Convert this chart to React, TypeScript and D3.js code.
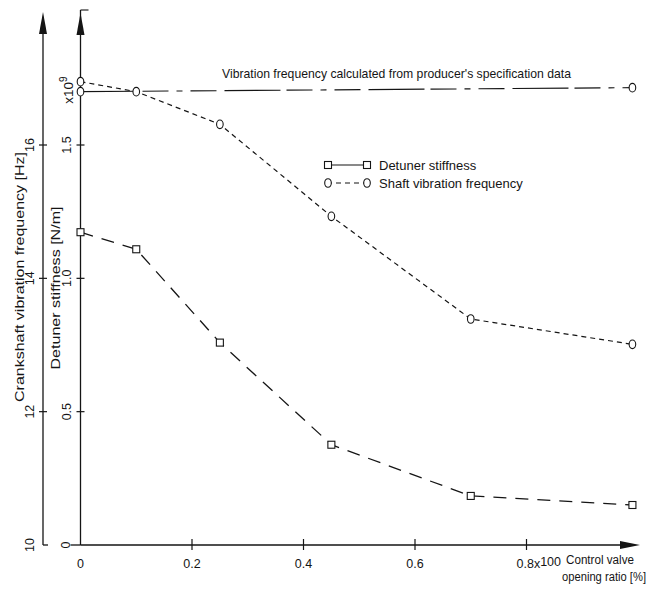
import React from "react";
import * as d3 from "d3";

const xValues = [0, 0.1, 0.25, 0.45, 0.7, 0.99];
const shaftFreq = [16.95, 16.8, 16.31, 14.93, 13.39, 13.01];
const detunerStiffness = [1.173, 1.109, 0.759, 0.376, 0.184, 0.15];
const specX = [0, 0.99];
const specFreq = [16.8, 16.86];
const xTicks = [0, 0.2, 0.4, 0.6, 0.8];
const xTickLabels = ["0", "0.2", "0.4", "0.6", "0.8"];
const hzTicks = [10, 12, 14, 16];
const stiffTicks = [0, 0.5, 1.0, 1.5];

const W = 656;
const H = 593;
const INK = "#151515";
const FONT = "'Liberation Sans Narrow', 'Liberation Sans', Arial, sans-serif";
const WIDE = "'Liberation Sans', Arial, sans-serif";

export default function App() {
  const x = d3.scaleLinear().domain([0, 0.2]).range([80.5, 192]);
  const yHz = d3.scaleLinear().domain([10, 16]).range([545, 145]);
  const yS = d3.scaleLinear().domain([0, 1.5]).range([545, 145]);
  const axHz = 43;
  const axS = x(0);
  const y0 = yS(0);

  const shaftPts: [number, number][] = xValues.map((v, i) => [x(v), yHz(shaftFreq[i])]);
  const stiffPts: [number, number][] = xValues.map((v, i) => [x(v), yS(detunerStiffness[i])]);
  const specPts: [number, number][] = specX.map((v, i) => [x(v), yHz(specFreq[i])]);
  const line = d3.line();

  const circ = (cx: number, cy: number, k: string) => (
    <ellipse key={k} cx={cx} cy={cy} rx={3.3} ry={4.3} fill="white" stroke={INK} strokeWidth={1.1} />
  );
  const sq = (cx: number, cy: number, k: string) => (
    <rect key={k} x={cx - 3.5} y={cy - 3.5} width={7} height={7} fill="white" stroke={INK} strokeWidth={1.1} />
  );

  return (
    <svg width={W} height={H} style={{ position: "absolute", left: 0, top: 0, background: "white" }} fontFamily={FONT}>
      <rect x={0} y={0} width={W} height={H} fill="white" />
      {/* Outer Hz axis */}
      <line x1={axHz} y1={y0} x2={axHz} y2={30} stroke={INK} strokeWidth={1.3} />
      <path d={`M${axHz},12 L${axHz - 4},34 L${axHz + 4},34 Z`} fill={INK} />
      <line x1={axHz} y1={y0} x2={axHz + 5} y2={y0} stroke={INK} strokeWidth={1.3} />
      {hzTicks.filter((t) => t !== 10).map((t) => (
        <line key={"ht" + t} x1={axHz - 4} x2={axHz + 4} y1={yHz(t)} y2={yHz(t)} stroke={INK} strokeWidth={1.2} />
      ))}
      {hzTicks.map((t) => (
        <text key={"hl" + t} transform={`translate(30,${yHz(t)}) rotate(-90)`} textAnchor="middle"
          dominantBaseline="central" fontSize={12.5} fill={INK}>{t}</text>
      ))}
      <text transform={`translate(19,277) rotate(-90)`} textAnchor="middle" dominantBaseline="central"
        fontSize={13} fill={INK} fontFamily={WIDE} textLength={250} lengthAdjust="spacingAndGlyphs">
        Crankshaft vibration frequency [Hz]
      </text>

      {/* Inner stiffness axis */}
      <line x1={axS} y1={y0} x2={axS} y2={10} stroke={INK} strokeWidth={1.3} />
      <line x1={axS} y1={10} x2={axS + 8} y2={10} stroke={INK} strokeWidth={1.1} />
      <path d={`M${axS},13 L${axS - 4},35 L${axS + 4},35 Z`} fill={INK} />
      <line x1={axS - 10} y1={y0} x2={axS} y2={y0} stroke={INK} strokeWidth={1.3} />
      {stiffTicks.filter((t) => t !== 0).map((t) => (
        <line key={"st" + t} x1={axS - 4} x2={axS + 4} y1={yS(t)} y2={yS(t)} stroke={INK} strokeWidth={1.2} />
      ))}
      {stiffTicks.map((t) => (
        <text key={"sl" + t} transform={`translate(${t === 0 ? 66 : 67},${yS(t)}) rotate(-90)`}
          textAnchor="middle" dominantBaseline="central" fontSize={12.5} fill={INK}>
          {t === 0 ? "0" : d3.format(".1f")(t)}
        </text>
      ))}
      <text transform={`translate(68,90) rotate(-90)`} textAnchor="middle" dominantBaseline="central"
        fontSize={13.5} fill={INK}>x10<tspan dy={-5} fontSize={10}>9</tspan></text>
      <text transform={`translate(55,288) rotate(-90)`} textAnchor="middle" dominantBaseline="central"
        fontSize={13} fill={INK} fontFamily={WIDE} textLength={163} lengthAdjust="spacingAndGlyphs">
        Detuner stiffness [N/m]
      </text>

      {/* X axis */}
      <line x1={axS} y1={y0} x2={628} y2={y0} stroke={INK} strokeWidth={1.3} />
      <path d={`M640,${y0} L620,${y0 - 4} L620,${y0 + 4} Z`} fill={INK} />
      {xTicks.filter((t) => t !== 0).map((t) => (
        <line key={"xt" + t} x1={x(t)} x2={x(t)} y1={y0 - 6} y2={y0 + 5} stroke={INK} strokeWidth={1.2} />
      ))}
      {xTicks.map((t, i) =>
        i === xTicks.length - 1 ? (
          <text key={"xl" + t} x={x(t) - 10} y={568} fontSize={12.5} fill={INK}>
            {xTickLabels[i]}x<tspan dy={-2}>100</tspan>
          </text>
        ) : (
          <text key={"xl" + t} x={x(t)} y={568} textAnchor="middle" fontSize={12.5} fill={INK}>{xTickLabels[i]}</text>
        )
      )}
      <text x={566} y={564} fontSize={12.5} fill={INK} textLength={68} lengthAdjust="spacingAndGlyphs">Control valve</text>
      <text x={562} y={581} fontSize={12.5} fill={INK} textLength={84} lengthAdjust="spacingAndGlyphs">opening ratio [%]</text>

      {/* Spec reference line */}
      <path d={line(specPts) || ""} fill="none" stroke={INK} strokeWidth={1.1} strokeDasharray="56 6 26 8 6 8 26 8" />
      <text x={222} y={78} fontSize={13} fill={INK} textLength={349} lengthAdjust="spacingAndGlyphs">
        Vibration frequency calculated from producer's specification data
      </text>

      {/* Shaft vibration frequency */}
      <path d={line(shaftPts) || ""} fill="none" stroke={INK} strokeWidth={1.2} strokeDasharray="5 4" />
      {/* Detuner stiffness */}
      <path d={line(stiffPts) || ""} fill="none" stroke={INK} strokeWidth={1.3} strokeDasharray="13 9" />

      {specPts.map((p, i) => circ(p[0], p[1], "sp" + i))}
      {shaftPts.map((p, i) => circ(p[0], p[1], "sh" + i))}
      {stiffPts.map((p, i) => sq(p[0], p[1], "sq" + i))}

      {/* Legend */}
      <line x1={327} x2={368} y1={165} y2={165} stroke={INK} strokeWidth={1.1} />
      {sq(328, 165, "lg1")}
      {sq(367, 165, "lg2")}
      <text x={379} y={169.5} fontSize={13} fill={INK}>Detuner stiffness</text>
      <line x1={327} x2={368} y1={183} y2={183} stroke={INK} strokeWidth={1.1} strokeDasharray="5 4" />
      {circ(328, 183, "lg3")}
      {circ(367, 183, "lg4")}
      <text x={379} y={187.5} fontSize={13} fill={INK}>Shaft vibration frequency</text>
    </svg>
  );
}
